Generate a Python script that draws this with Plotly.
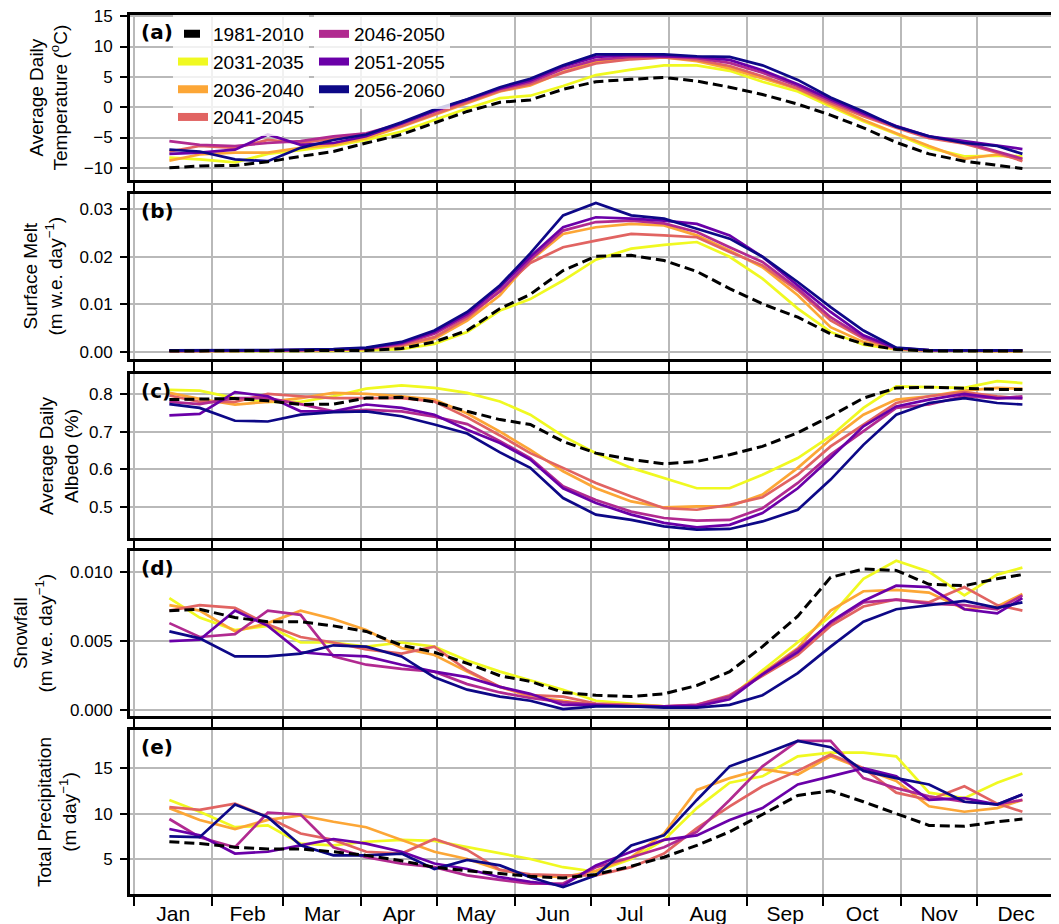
import plotly.graph_objects as go

# ---------------- data ----------------
DAYS = [14, 26, 40, 53, 66, 79, 92, 106, 119, 132, 145, 157, 170, 183, 197,
        210, 223, 236, 249, 263, 276, 289, 302, 315, 329, 342, 352]

MONTHS = ["Jan", "Feb", "Mar", "Apr", "May", "Jun", "Jul", "Aug", "Sep", "Oct", "Nov", "Dec"]
MONTH_START = [0, 31, 59, 90, 120, 151, 181, 212, 243, 273, 304, 334]
MONTH_MID = [15.5, 45, 74.5, 105, 135.5, 166, 196.5, 227.5, 258, 288.5, 319, 349.5]

PERIODS = ["1981-2010", "2031-2035", "2036-2040", "2041-2045", "2046-2050", "2051-2055", "2056-2060"]
COLORS = ["#000000", "#f0f921", "#fca636", "#e16462", "#b12a90", "#6a00a8", "#0d0887"]

# (a) Average daily temperature (deg C)
temp_1981_2010 = [-10.0, -9.7, -9.6, -9.0, -8.1, -7.3, -5.9, -4.5, -2.6, -0.7, 0.8, 1.2, 2.95, 4.2, 4.6,
                  4.9, 4.3, 3.3, 2.1, 0.5, -1.3, -3.4, -5.8, -7.7, -8.9, -9.6, -10.1]
temp_2031_2035 = [-8.3, -8.6, -9.1, -7.7, -7.1, -6.4, -5.4, -4.0, -2.1, -0.2, 1.5, 1.9, 3.5, 5.3, 6.2,
                  6.9, 6.9, 6.0, 4.2, 2.6, 0.1, -2.3, -4.4, -6.7, -8.1, -8.0, -8.1]
temp_2036_2040 = [-8.8, -7.8, -7.5, -7.5, -6.7, -6.2, -5.1, -3.2, -1.3, 0.7, 2.6, 3.6, 5.8, 7.5, 8.0,
                  8.2, 7.6, 6.4, 4.8, 3.0, 0.4, -2.1, -4.3, -6.4, -8.5, -7.8, -8.6]
temp_2041_2045 = [-7.3, -6.4, -6.7, -5.4, -5.9, -5.2, -4.5, -3.1, -1.1, 0.8, 2.7, 3.8, 5.7, 7.2, 7.9,
                  8.2, 7.8, 6.8, 5.1, 3.1, 0.7, -1.5, -3.4, -5.1, -6.0, -7.5, -8.9]
temp_2046_2050 = [-5.6, -6.2, -6.4, -5.9, -5.6, -4.8, -4.3, -2.7, -0.7, 1.1, 3.0, 4.1, 6.3, 7.8, 8.3,
                  8.4, 8.1, 7.3, 5.7, 3.5, 1.0, -1.2, -3.2, -4.9, -5.8, -7.3, -8.5]
temp_2051_2055 = [-7.7, -7.5, -7.0, -4.5, -6.2, -5.9, -4.8, -2.7, -0.6, 1.2, 3.1, 4.4, 6.7, 8.3, 8.6,
                  8.4, 8.3, 7.8, 6.1, 3.8, 1.3, -1.0, -3.1, -4.8, -5.6, -6.4, -6.9]
temp_2056_2060 = [-7.0, -7.3, -8.6, -8.9, -6.7, -5.4, -4.5, -2.5, -0.4, 1.3, 3.3, 4.7, 6.9, 8.7, 8.7,
                  8.7, 8.4, 8.3, 6.9, 4.5, 1.6, -0.7, -3.2, -4.8, -5.9, -6.4, -7.7]

# (b) Surface melt (m w.e. day^-1)
melt_1981_2010 = [0.0002, 0.0002, 0.0002, 0.0002, 0.0002, 0.0003, 0.0003, 0.0007, 0.0021, 0.0045, 0.0091,
                  0.0121, 0.0171, 0.0201, 0.0203, 0.0192, 0.0169, 0.0133, 0.0101, 0.0073, 0.0038, 0.0017,
                  0.0005, 0.0002, 0.0002, 0.0002, 0.0002]
melt_2031_2035 = [0.0001, 0.0001, 0.0001, 0.0002, 0.0002, 0.0002, 0.0003, 0.0006, 0.0017, 0.0042, 0.0087,
                  0.0111, 0.0150, 0.0194, 0.0217, 0.0225, 0.0231, 0.0200, 0.0154, 0.0091, 0.0042, 0.0015,
                  0.0005, 0.0002, 0.0002, 0.0001, 0.0001]
melt_2036_2040 = [0.0002, 0.0002, 0.0002, 0.0003, 0.0003, 0.0004, 0.0006, 0.0012, 0.0027, 0.0066, 0.0119,
                  0.0192, 0.0248, 0.0262, 0.0269, 0.0266, 0.0245, 0.0213, 0.0178, 0.0119, 0.0052, 0.0021,
                  0.0006, 0.0003, 0.0002, 0.0002, 0.0002]
melt_2041_2045 = [0.0002, 0.0002, 0.0002, 0.0003, 0.0003, 0.0004, 0.0007, 0.0014, 0.0031, 0.0071, 0.0129,
                  0.0187, 0.0220, 0.0234, 0.0248, 0.0245, 0.0241, 0.0210, 0.0182, 0.0129, 0.0066, 0.0028,
                  0.0007, 0.0003, 0.0002, 0.0002, 0.0002]
melt_2046_2050 = [0.0002, 0.0002, 0.0002, 0.0003, 0.0004, 0.0005, 0.0007, 0.0017, 0.0038, 0.0076, 0.0127,
                  0.0194, 0.0255, 0.0273, 0.0276, 0.0270, 0.0252, 0.0220, 0.0189, 0.0133, 0.0073, 0.0031,
                  0.0008, 0.0003, 0.0003, 0.0003, 0.0003]
melt_2051_2055 = [0.0002, 0.0002, 0.0003, 0.0003, 0.0004, 0.0005, 0.0008, 0.0019, 0.0042, 0.0080, 0.0136,
                  0.0200, 0.0262, 0.0283, 0.0280, 0.0276, 0.0269, 0.0245, 0.0200, 0.0140, 0.0084, 0.0035,
                  0.0008, 0.0004, 0.0003, 0.0003, 0.0003]
melt_2056_2060 = [0.0003, 0.0003, 0.0003, 0.0004, 0.0005, 0.0006, 0.0009, 0.0021, 0.0045, 0.0084, 0.0140,
                  0.0207, 0.0287, 0.0313, 0.0287, 0.0280, 0.0259, 0.0238, 0.0200, 0.0147, 0.0094, 0.0045,
                  0.0009, 0.0004, 0.0003, 0.0003, 0.0003]

# (c) Average daily albedo
albedo_1981_2010 = [0.785, 0.787, 0.788, 0.782, 0.772, 0.773, 0.789, 0.791, 0.779, 0.754, 0.732, 0.719, 0.674,
                    0.643, 0.626, 0.615, 0.621, 0.639, 0.661, 0.697, 0.741, 0.789, 0.816, 0.818, 0.814,
                    0.812, 0.812]
albedo_2031_2035 = [0.811, 0.809, 0.789, 0.779, 0.779, 0.794, 0.814, 0.823, 0.816, 0.803, 0.780, 0.745, 0.688,
                    0.643, 0.604, 0.577, 0.550, 0.550, 0.586, 0.630, 0.688, 0.763, 0.820, 0.818, 0.816,
                    0.834, 0.829]
albedo_2036_2040 = [0.803, 0.787, 0.772, 0.779, 0.789, 0.803, 0.800, 0.794, 0.785, 0.748, 0.700, 0.652, 0.595,
                    0.550, 0.515, 0.499, 0.502, 0.502, 0.533, 0.604, 0.679, 0.745, 0.785, 0.794, 0.809,
                    0.816, 0.814]
albedo_2041_2045 = [0.796, 0.779, 0.779, 0.800, 0.794, 0.789, 0.789, 0.789, 0.780, 0.738, 0.690, 0.643, 0.604,
                    0.564, 0.528, 0.497, 0.493, 0.506, 0.526, 0.586, 0.661, 0.719, 0.776, 0.794, 0.805,
                    0.794, 0.788]
albedo_2046_2050 = [0.779, 0.773, 0.789, 0.789, 0.773, 0.754, 0.758, 0.754, 0.740, 0.720, 0.675, 0.630, 0.555,
                    0.519, 0.488, 0.471, 0.464, 0.466, 0.497, 0.564, 0.639, 0.700, 0.763, 0.772, 0.794,
                    0.788, 0.794]
albedo_2051_2055 = [0.743, 0.747, 0.805, 0.794, 0.754, 0.754, 0.772, 0.763, 0.745, 0.705, 0.670, 0.626, 0.550,
                    0.511, 0.480, 0.458, 0.446, 0.453, 0.484, 0.550, 0.630, 0.714, 0.767, 0.785, 0.800,
                    0.789, 0.789]
albedo_2056_2060 = [0.773, 0.763, 0.729, 0.727, 0.745, 0.752, 0.754, 0.741, 0.719, 0.695, 0.645, 0.604, 0.524,
                    0.480, 0.466, 0.449, 0.440, 0.442, 0.462, 0.493, 0.573, 0.665, 0.745, 0.776, 0.789,
                    0.776, 0.772]

# (d) Snowfall (m w.e. day^-1)
snow_1981_2010 = [0.0072, 0.0073, 0.0067, 0.0064, 0.0064, 0.0061, 0.0057, 0.0047, 0.0042, 0.0034, 0.0025,
                  0.0021, 0.0013, 0.0011, 0.0010, 0.0012, 0.0018, 0.0028, 0.0046, 0.0068, 0.0096, 0.0102,
                  0.0101, 0.0091, 0.0090, 0.0095, 0.0098]
snow_2031_2035 = [0.0081, 0.0067, 0.0058, 0.0061, 0.0049, 0.0049, 0.0046, 0.0049, 0.0046, 0.0036, 0.0028,
                  0.0022, 0.0015, 0.0007, 0.0005, 0.0003, 0.0003, 0.0009, 0.0029, 0.0049, 0.0068, 0.0095,
                  0.0108, 0.0100, 0.0083, 0.0098, 0.0103]
snow_2036_2040 = [0.0076, 0.0072, 0.0057, 0.0063, 0.0072, 0.0066, 0.0058, 0.0045, 0.0040, 0.0028, 0.0017,
                  0.0010, 0.0007, 0.0004, 0.0004, 0.0003, 0.0003, 0.0010, 0.0027, 0.0045, 0.0072, 0.0086,
                  0.0087, 0.0085, 0.0073, 0.0075, 0.0084]
snow_2041_2045 = [0.0072, 0.0076, 0.0074, 0.0062, 0.0053, 0.0049, 0.0044, 0.0041, 0.0046, 0.0029, 0.0017,
                  0.0011, 0.0010, 0.0005, 0.0004, 0.0003, 0.0004, 0.0011, 0.0025, 0.0040, 0.0061, 0.0075,
                  0.0080, 0.0078, 0.0089, 0.0076, 0.0072]
snow_2046_2050 = [0.0063, 0.0053, 0.0055, 0.0072, 0.0069, 0.0039, 0.0033, 0.0030, 0.0028, 0.0019, 0.0013,
                  0.0009, 0.0006, 0.0004, 0.0003, 0.0003, 0.0004, 0.0010, 0.0026, 0.0044, 0.0063, 0.0078,
                  0.0080, 0.0077, 0.0076, 0.0073, 0.0083]
snow_2051_2055 = [0.0050, 0.0051, 0.0072, 0.0061, 0.0042, 0.0040, 0.0039, 0.0033, 0.0028, 0.0024, 0.0017,
                  0.0012, 0.0004, 0.0004, 0.0003, 0.0003, 0.0003, 0.0008, 0.0026, 0.0042, 0.0064, 0.0079,
                  0.0090, 0.0089, 0.0073, 0.0070, 0.0081]
snow_2056_2060 = [0.0057, 0.0052, 0.0039, 0.0039, 0.0041, 0.0047, 0.0046, 0.0039, 0.0024, 0.0015, 0.0010,
                  0.0007, 0.0001, 0.0003, 0.0003, 0.0002, 0.0002, 0.0004, 0.0011, 0.0027, 0.0046, 0.0064,
                  0.0073, 0.0076, 0.0079, 0.0074, 0.0078]

# (e) Total precipitation (m day^-1)
precip_1981_2010 = [6.9, 6.7, 6.3, 6.1, 6.1, 5.8, 5.4, 4.8, 4.1, 3.7, 3.4, 3.1, 2.9, 3.3, 4.2,
                    5.2, 6.5, 8.0, 9.9, 12.0, 12.5, 11.3, 10.0, 8.7, 8.6, 9.1, 9.4]
precip_2031_2035 = [11.5, 10.2, 8.5, 8.7, 6.7, 6.5, 6.9, 7.1, 7.0, 6.3, 5.6, 5.0, 4.1, 3.6, 5.0,
                    7.1, 10.6, 13.4, 14.1, 16.3, 16.7, 16.7, 16.3, 12.3, 11.7, 13.4, 14.4]
precip_2036_2040 = [10.6, 9.3, 8.3, 9.3, 9.8, 9.1, 8.5, 7.1, 5.8, 5.0, 3.8, 3.2, 3.0, 3.7, 5.2,
                    7.8, 12.6, 13.9, 14.9, 14.3, 16.3, 14.9, 13.6, 10.8, 10.2, 10.6, 11.5]
precip_2041_2045 = [10.7, 10.4, 11.1, 9.6, 7.8, 7.1, 5.8, 5.6, 7.2, 6.0, 3.8, 3.3, 3.2, 3.2, 4.1,
                    5.6, 8.4, 10.8, 13.0, 14.7, 16.5, 15.0, 12.3, 11.5, 13.0, 11.1, 10.2]
precip_2046_2050 = [9.4, 7.4, 6.3, 10.1, 9.9, 6.3, 5.2, 4.5, 4.1, 3.2, 2.7, 2.3, 2.3, 4.1, 5.2,
                    6.3, 8.0, 11.5, 15.2, 18.0, 18.0, 13.9, 12.8, 11.9, 11.3, 11.0, 11.5]
precip_2051_2055 = [8.3, 7.6, 5.6, 5.8, 6.5, 7.2, 6.7, 5.8, 4.5, 3.9, 3.0, 2.5, 2.1, 4.3, 5.8,
                    7.1, 7.6, 9.3, 10.6, 13.2, 14.1, 15.0, 14.1, 11.5, 11.7, 11.0, 12.1]
precip_2056_2060 = [7.5, 7.4, 11.0, 9.6, 6.5, 5.4, 5.4, 5.6, 3.9, 4.9, 4.3, 3.0, 1.9, 3.2, 6.5,
                    7.6, 11.5, 15.2, 16.5, 18.0, 17.3, 14.7, 13.9, 13.2, 11.3, 11.0, 12.1]

# ---------------- panels ----------------
PANELS = [
    dict(label="(a)", title="Average Daily<br>Temperature (<sup>o</sup>C)", title_x=49,
         series=[temp_1981_2010, temp_2031_2035, temp_2036_2040, temp_2041_2045,
                 temp_2046_2050, temp_2051_2055, temp_2056_2060],
         yrange=[-12.0, 15.2], tickvals=[-10, -5, 0, 5, 10, 15],
         ticktext=["\u221210", "\u22125", "0", "5", "10", "15"], domain=[0.8123, 1.0]),
    dict(label="(b)", title="Surface Melt<br>(m w.e. day<sup>\u22121</sup>)", title_x=43,
         series=[melt_1981_2010, melt_2031_2035, melt_2036_2040, melt_2041_2045,
                 melt_2046_2050, melt_2051_2055, melt_2056_2060],
         yrange=[-0.0015, 0.0332], tickvals=[0, 0.01, 0.02, 0.03],
         ticktext=["0.00", "0.01", "0.02", "0.03"], domain=[0.6086, 0.7964]),
    dict(label="(c)", title="Average Daily<br>Albedo (%)", title_x=59,
         series=[albedo_1981_2010, albedo_2031_2035, albedo_2036_2040, albedo_2041_2045,
                 albedo_2046_2050, albedo_2051_2055, albedo_2056_2060],
         yrange=[0.418, 0.853], tickvals=[0.5, 0.6, 0.7, 0.8],
         ticktext=["0.5", "0.6", "0.7", "0.8"], domain=[0.4050, 0.5916]),
    dict(label="(d)", title="Snowfall<br>(m w.e. day<sup>\u22121</sup>)", title_x=33,
         series=[snow_1981_2010, snow_2031_2035, snow_2036_2040, snow_2041_2045,
                 snow_2046_2050, snow_2051_2055, snow_2056_2060],
         yrange=[-0.0004, 0.0115], tickvals=[0, 0.005, 0.01],
         ticktext=["0.000", "0.005", "0.010"], domain=[0.2025, 0.3902]),
    dict(label="(e)", title="Total Precipitation<br>(m day<sup>\u22121</sup>)", title_x=57,
         series=[precip_1981_2010, precip_2031_2035, precip_2036_2040, precip_2041_2045,
                 precip_2046_2050, precip_2051_2055, precip_2056_2060],
         yrange=[1.15, 19.2], tickvals=[5, 10, 15],
         ticktext=["5", "10", "15"], domain=[0.0, 0.1866]),
]

FONT = "Liberation Sans, Arial, Helvetica, sans-serif"
GRID = "#b9b9b9"
W, H = 1059, 924
BODY = 8                      # default page margin of the html body
PLOT_LEFT, PLOT_TOP, PLOT_BOTTOM, PLOT_RIGHT = 130, 15, 894, 1059   # in window pixels
ML = PLOT_LEFT - BODY
MT = PLOT_TOP - BODY
MR = W + BODY - PLOT_RIGHT
MB = H + BODY - PLOT_BOTTOM
PLOT_W = PLOT_RIGHT - PLOT_LEFT

fig = go.Figure()
layout = dict(
    width=W, height=H, template="none",
    margin=dict(l=ML, r=MR, t=MT, b=MB, autoexpand=False),
    paper_bgcolor="white", plot_bgcolor="white",
    font=dict(family=FONT, color="black"),
    showlegend=True, annotations=[],
)

draw_order = [1, 2, 3, 4, 5, 6, 0]  # colours first, baseline dashed on top
for p_i, panel in enumerate(PANELS):
    n = p_i + 1
    xs = "x" if n == 1 else f"x{n}"
    ys = "y" if n == 1 else f"y{n}"
    for k in draw_order:
        if k == 0:
            line = dict(color=COLORS[k], width=3, dash="10px,5px")
        else:
            line = dict(color=COLORS[k], width=2.7)
        fig.add_trace(go.Scatter(x=DAYS, y=panel["series"][k], mode="lines", line=line,
                                 name=PERIODS[k], showlegend=False, hoverinfo="skip",
                                 xaxis=xs, yaxis=ys))
    xkey = "xaxis" if n == 1 else f"xaxis{n}"
    ykey = "yaxis" if n == 1 else f"yaxis{n}"
    layout[xkey] = dict(
        anchor=ys, domain=[0, 1], range=[-1.6, 366.5], automargin=False,
        tickmode="array", tickvals=MONTH_MID, ticktext=MONTHS, ticks="",
        showticklabels=(n == 5), tickfont=dict(size=21, family=FONT, color="black"),
        ticklabelstandoff=-1, ticklabeloverflow="allow",
        showgrid=False, zeroline=False,
        showline=True, linecolor="black", linewidth=3, mirror=True,
        minor=dict(tickmode="array", tickvals=MONTH_START, ticks="outside", ticklen=9,
                   tickwidth=2, tickcolor="black", showgrid=True, gridcolor=GRID, gridwidth=1.6),
    )
    layout[ykey] = dict(
        anchor=xs, domain=panel["domain"], range=panel["yrange"], automargin=False,
        tickmode="array", tickvals=panel["tickvals"], ticktext=panel["ticktext"],
        ticks="outside", ticklen=7, tickwidth=2, tickcolor="black",
        tickfont=dict(size=17, family=FONT, color="black"), ticklabelstandoff=4,
        ticklabeloverflow="allow",
        showgrid=True, gridcolor=GRID, gridwidth=1.6, zeroline=False,
        showline=True, linecolor="black", linewidth=3, mirror=False,
    )
    # panel letter
    layout["annotations"].append(dict(
        text=f"<b>{panel['label']}</b>", xref=f"{xs} domain", yref=f"{ys} domain",
        x=0.01, y=0.895, xanchor="left", yanchor="middle", showarrow=False,
        font=dict(family="DejaVu Sans", size=20, color="black")))
    # y-axis title
    layout["annotations"].append(dict(
        text=panel["title"], xref="paper", yref=f"{ys} domain",
        x=(panel["title_x"] - PLOT_LEFT) / PLOT_W, y=0.5, xanchor="center", yanchor="middle",
        textangle=-90, showarrow=False, font=dict(family=FONT, size=19, color="black")))

# legend entries (thick handles) placed in two columns inside panel (a)
for k in range(7):
    if k == 0:
        lline = dict(color=COLORS[k], width=8, dash="0px,6px,16px,40px")
    else:
        lline = dict(color=COLORS[k], width=8)
    fig.add_trace(go.Scatter(x=[None], y=[None], mode="lines", line=lline, name=PERIODS[k],
                             showlegend=True, hoverinfo="skip", xaxis="x", yaxis="y",
                             legend="legend" if k < 4 else "legend2"))

leg_common = dict(xanchor="left", yanchor="top", bgcolor="rgba(255,255,255,0.8)", borderwidth=0,
                  font=dict(family=FONT, size=19, color="black"), itemwidth=30,
                  traceorder="normal", orientation="v", tracegroupgap=0)
layout["legend"] = dict(x=(173 - PLOT_LEFT) / PLOT_W, y=1.0, **leg_common)
layout["legend2"] = dict(x=(314 - PLOT_LEFT) / PLOT_W, y=1.0, **leg_common)

fig.update_layout(**layout)
fig.write_html("out.html")
